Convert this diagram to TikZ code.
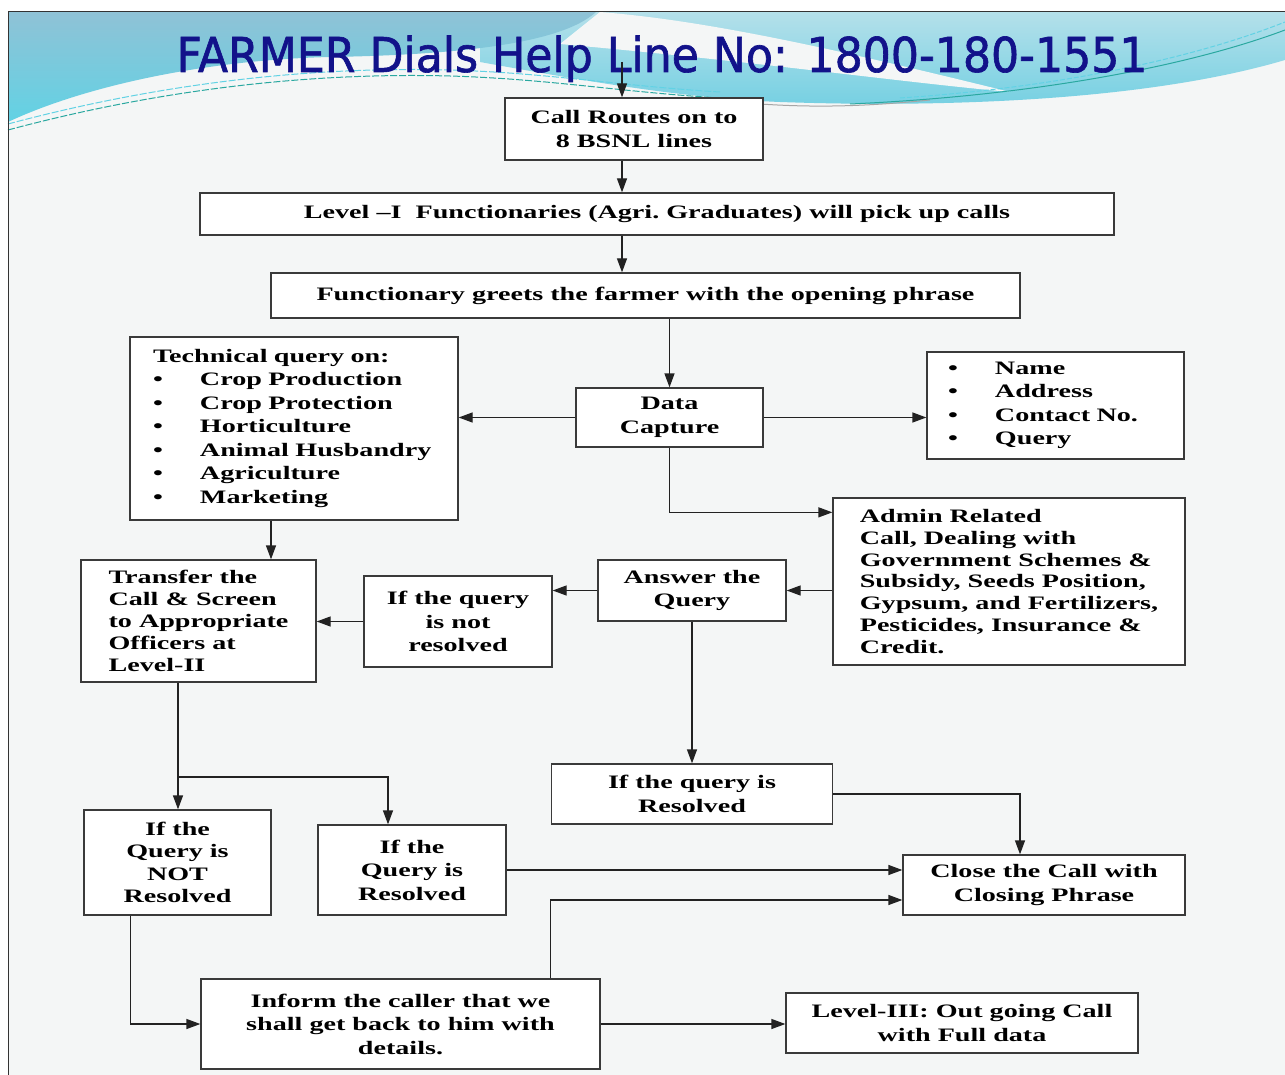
\documentclass[tikz,border=0pt]{standalone}
\usepackage{fontspec}
\usetikzlibrary{arrows.meta}
\newfontfamily\testo{Liberation Serif}[FakeStretch=1.48]
\newfontfamily\titolofont{DejaVu Sans}[FakeStretch=0.92, FakeBold=1.3]
\definecolor{sfondo}{HTML}{F4F6F6}
\definecolor{acciaio}{HTML}{8FC2D6}
\definecolor{ciano}{HTML}{62D2E4}
\definecolor{celeste}{HTML}{B4E0EA}
\definecolor{celestescuro}{HTML}{74D0E2}
\definecolor{verdeacqua}{HTML}{2AA8A0}
\definecolor{blunotte}{HTML}{12128A}
\definecolor{bordo}{HTML}{3A3A3A}
\definecolor{linea}{HTML}{222222}
\newcommand{\voce}[2]{\mbox{\makebox[#1][l]{•}#2}}

\begin{document}
\begin{tikzpicture}[x=1pt,y=-1pt,
  casella/.style={draw=bordo, line width=1.3pt, fill=white, inner sep=0pt, align=center,
    font=\testo\bfseries\fontsize{19}{23.5}\selectfont},
  misura/.style 2 args={minimum width=#1pt, minimum height=#2pt},
  freccia/.style={-{Triangle[length=14pt,width=10pt]}, line width=1.3pt, draw=linea}]

  \useasboundingbox (0,0) rectangle (1285,1075);

  % ---- Sfondo della diapositiva ------------------------------------------
  \fill[white] (0,0) rectangle (1285,1075);
  \fill[sfondo] (8,12) rectangle (1285,1075);

  % Onde azzurre in alto
  \shade[top color=celeste, bottom color=celestescuro]
    (480,12) -- (1285,12) -- (1285,60) .. controls (1150,100) and (950,108) .. (780,102)
    .. controls (680,98) and (580,80) .. (480,62) -- cycle;
  \fill[sfondo] (600,12) .. controls (700,20) and (820,45) .. (1010,92)
    .. controls (900,82) and (760,62) .. (560,44) -- cycle;
  \shade[top color=acciaio, bottom color=ciano]
    (8,12) -- (596,12) .. controls (560,45) and (450,55) .. (330,57)
    .. controls (200,60) and (80,88) .. (8,122) -- cycle;
  % filetti sottili
  \draw[verdeacqua, line width=1pt, dash pattern=on 7pt off 2pt]
    (8,130) .. controls (150,92) and (300,72) .. (450,76) .. controls (550,79) and (620,92) .. (720,98);
  \draw[ciano, line width=1pt, dash pattern=on 7pt off 2pt]
    (8,124) .. controls (150,86) and (300,66) .. (450,70) .. controls (550,73) and (620,86) .. (720,92);
  \draw[black!35, line width=1pt] (760,104) .. controls (820,108) and (870,106) .. (930,100);
  \draw[verdeacqua, line width=1pt] (850,104) .. controls (1050,95) and (1200,62) .. (1285,30);
  \draw[ciano, line width=1pt, dash pattern=on 5pt off 2pt] (900,98) .. controls (1080,86) and (1210,52) .. (1285,22);

  % Cornice
  \draw[black!80, line width=1pt] (8,1075) -- (8,12) -- (1285,12);

  % ---- Titolo ---------------------------------------------------------------
  \node[anchor=base, text=blunotte, inner sep=0pt, font=\titolofont\fontsize{48}{52}\selectfont]
    (titolo) at (662,72) {FARMER Dials Help Line No: 1800-180-1551};

  % ---- Caselle --------------------------------------------------------------
  \node[casella, misura={258}{62}] (instradamento) at (634,129) {Call Routes on to\\8 BSNL lines};
  \node[casella, misura={914}{42}] (livelloI) at (657,214)
    {Level –I\ \ Functionaries (Agri.\ Graduates) will pick up calls};
  \node[casella, misura={749}{45}] (saluto) at (645.5,295.5)
    {Functionary greets the farmer with the opening phrase};
  \node[casella, misura={328}{183}, text width=282pt, align=left] (tecnica) at (294,428.5)
    {Technical query on:\\
     \voce{47pt}{Crop Production}\\
     \voce{47pt}{Crop Protection}\\
     \voce{47pt}{Horticulture}\\
     \voce{47pt}{Animal Husbandry}\\
     \voce{47pt}{Agriculture}\\
     \voce{47pt}{Marketing}};
  \node[casella, misura={187}{59}] (dati) at (669.5,417.5) {Data\\Capture};
  \node[casella, misura={257}{107}, text width=215pt, align=left] (anagrafica) at (1055.5,405.5)
    {\voce{47pt}{Name}\\ \voce{47pt}{Address}\\ \voce{47pt}{Contact No.}\\ \voce{47pt}{Query}};
  \node[casella, misura={352}{167}, align=left, font=\testo\bfseries\fontsize{19}{21.8}\selectfont]
    (amministrativa) at (1009,581.5)
    {Admin Related\\Call, Dealing with\\Government Schemes \&\\Subsidy, Seeds Position,\\
     Gypsum, and Fertilizers,\\Pesticides, Insurance \&\\Credit.};
  \node[casella, misura={235}{122}, align=left, font=\testo\bfseries\fontsize{19}{22}\selectfont]
    (trasferimento) at (198.5,621)
    {Transfer the\\Call \& Screen\\to Appropriate\\Officers at\\Level-II};
  \node[casella, misura={188}{91}] (nonrisolta) at (458,621.5) {If the query\\is not\\resolved};
  \node[casella, misura={188}{61}] (risposta) at (692,590.5) {Answer the\\Query};
  \node[casella, misura={281}{60}] (risolta) at (692,794) {If the query is\\Resolved};
  \node[casella, misura={187}{105}, font=\testo\bfseries\fontsize{19}{22.5}\selectfont]
    (nonrisoltaII) at (177.5,862.5) {If the\\Query is\\NOT\\Resolved};
  \node[casella, misura={188}{90}] (risoltaII) at (412,870) {If the\\Query is\\Resolved};
  \node[casella, misura={282}{60}] (chiusura) at (1044,885) {Close the Call with\\Closing Phrase};
  \node[casella, misura={399}{90}] (richiamata) at (400.5,1024)
    {Inform the caller that we\\shall get back to him with\\details.};
  \node[casella, misura={352}{60}] (livelloIII) at (962,1023) {Level-III: Out going Call\\with Full data};

  % ---- Collegamenti ---------------------------------------------------------
  \coordinate (partenza) at (622,62);
  \coordinate (bivio) at (178,777);
  \draw[freccia] (partenza) -- (partenza |- instradamento.north);
  \draw[freccia] (partenza |- instradamento.south) -- (partenza |- livelloI.north);
  \draw[freccia] (partenza |- livelloI.south) -- (partenza |- saluto.north);
  \draw[freccia] (dati.north |- saluto.south) -- (dati.north);
  \draw[freccia] (dati.west) -- (dati.west -| tecnica.east);
  \draw[freccia] (dati.east) -- (dati.east -| anagrafica.west);
  \draw[freccia] (dati.south) |- ([yshift=-15pt]amministrativa.north west);
  \draw[freccia] (risposta.east -| amministrativa.west) -- (risposta.east);
  \draw[freccia] (risposta.west) -- (risposta.west -| nonrisolta.east);
  \draw[freccia] (nonrisolta.west) -- (nonrisolta.west -| trasferimento.east);
  \draw[freccia] (risposta.south) -- (risolta.north);
  \draw[freccia] ([xshift=-23pt]tecnica.south) -- ([xshift=-23pt]tecnica.south |- trasferimento.north);
  \draw[freccia] (bivio |- trasferimento.south) -- (bivio |- nonrisoltaII.north);
  \draw[freccia] (bivio) -| ([xshift=-24pt]risoltaII.north);
  \draw[freccia] (risolta.east) -| ([xshift=-24pt]chiusura.north);
  \draw[freccia] (risoltaII.east) -- (risoltaII.east -| chiusura.west);
  \draw[freccia] ([xshift=150pt]richiamata.north) |- ([yshift=-15pt]chiusura.west);
  \draw[freccia] ([xshift=-47pt]nonrisoltaII.south) |- (richiamata.west);
  \draw[freccia] (richiamata.east) -- (richiamata.east -| livelloIII.west);

\end{tikzpicture}
\end{document}
